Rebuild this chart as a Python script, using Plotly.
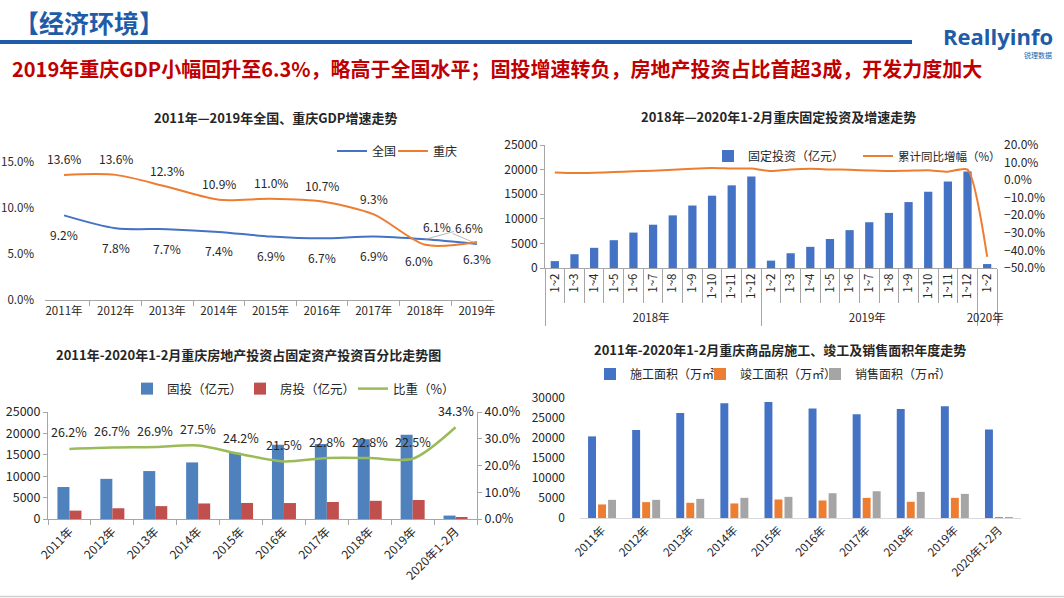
import plotly.graph_objects as go

W, H = 1064, 598
FONT = "Noto Sans CJK SC"
TXT = "#262626"
AXC = "#a6a6a6"


def fx(px):
    return px / W


def fy(py):
    return 1 - py / H


# ---------------- data ----------------
# Chart 1: GDP growth
gdp_years = ["2011年", "2012年", "2013年", "2014年", "2015年", "2016年", "2017年", "2018年", "2019年"]
gdp_national = [9.2, 7.8, 7.7, 7.4, 6.9, 6.7, 6.9, 6.6, 6.1]
gdp_chongqing = [13.6, 13.6, 12.3, 10.9, 11.0, 10.7, 9.3, 6.0, 6.3]

# Chart 2: fixed investment (monthly cumulative)
fai_group = ["2018年"] * 11 + ["2019年"] * 11 + ["2020年"]
fai_period = ["1~2", "1~3", "1~4", "1~5", "1~6", "1~7", "1~8", "1~9", "1~10", "1~11", "1~12",
              "1~2", "1~3", "1~4", "1~5", "1~6", "1~7", "1~8", "1~9", "1~10", "1~11", "1~12",
              "1~2"]
fai_value = [1400, 2800, 4100, 5650, 7200, 8800, 10700, 12700, 14700, 16800, 18600,
             1500, 3000, 4300, 5900, 7700, 9300, 11200, 13400, 15500, 17600, 19600,
             800]
fai_growth = [4.3, 4.0, 4.2, 4.6, 5.0, 5.4, 5.9, 6.5, 6.9, 6.6, 6.6,
              5.2, 6.1, 6.5, 6.1, 5.9, 5.5, 5.2, 5.4, 5.6, 4.8, 6.0,
              -43.6]

# Chart 3: real estate share of fixed investment
re_years = ["2011年", "2012年", "2013年", "2014年", "2015年", "2016年", "2017年", "2018年", "2019年", "2020年1-2月"]
re_fai = [7470, 9380, 11200, 13220, 15480, 17360, 17540, 18660, 19700, 800]
re_invest = [1960, 2510, 3010, 3630, 3750, 3730, 3980, 4250, 4440, 275]
re_share = [26.2, 26.7, 26.9, 27.5, 24.2, 21.5, 22.8, 22.8, 22.5, 34.3]

# Chart 4: construction / completion / sales area
area_years = ["2011年", "2012年", "2013年", "2014年", "2015年", "2016年", "2017年", "2018年", "2019年", "2020年1-2月"]
area_construct = [20400, 21980, 26280, 28680, 29000, 27350, 25950, 27270, 27930, 22140]
area_complete = [3390, 3970, 3800, 3640, 4630, 4380, 5040, 4050, 5040, 250]
area_sales = [4540, 4540, 4790, 5040, 5290, 6200, 6690, 6530, 6030, 250]

fig = go.Figure()

# ---------------- Chart 1 ----------------
fig.add_trace(go.Scatter(x=gdp_years, y=gdp_national, name="全国", mode="lines",
                         line=dict(color="#4472c4", width=2, shape="spline", smoothing=0.8),
                         xaxis="x", yaxis="y", legend="legend"))
fig.add_trace(go.Scatter(x=gdp_years, y=gdp_chongqing, name="重庆", mode="lines",
                         line=dict(color="#ed7d31", width=2, shape="spline", smoothing=0.8),
                         xaxis="x", yaxis="y", legend="legend2"))

annots = []
lab_font = dict(family=FONT, size=12, color=TXT)
n = len(gdp_years)
for i, (yr, v) in enumerate(zip(gdp_years, gdp_chongqing)):
    if i < n - 2:
        annots.append(dict(x=yr, y=v, xref="x", yref="y", text=f"{v:.1f}%", showarrow=False,
                           yshift=16, font=lab_font))
    else:
        annots.append(dict(x=yr, y=v, xref="x", yref="y", text=f"{v:.1f}%", showarrow=False,
                           yshift=-16, xshift=-6 if i == n - 2 else 0, font=lab_font))
for i, (yr, v) in enumerate(zip(gdp_years, gdp_national)):
    if i < n - 2:
        annots.append(dict(x=yr, y=v, xref="x", yref="y", text=f"{v:.1f}%", showarrow=False,
                           yshift=-19, font=lab_font))
    elif i == n - 2:
        annots.append(dict(x=yr, y=v, xref="x", yref="y", text=f"{v:.1f}%", showarrow=True,
                           arrowhead=0, arrowwidth=0.8, arrowcolor=AXC, ax=44, ay=-12,
                           standoff=0, font=lab_font))
    else:
        annots.append(dict(x=yr, y=v, xref="x", yref="y", text=f"{v:.1f}%", showarrow=True,
                           arrowhead=0, arrowwidth=0.8, arrowcolor=AXC, ax=-40, ay=-17,
                           standoff=0, font=lab_font))

# ---------------- Chart 2 ----------------
fig.add_trace(go.Bar(x=[fai_group, fai_period], y=fai_value, name="固定投资（亿元）",
                     marker=dict(color="#4472c4", line=dict(width=0)), width=0.42,
                     xaxis="x2", yaxis="y2", legend="legend3"))
fig.add_trace(go.Scatter(x=[fai_group, fai_period], y=fai_growth, name="累计同比增幅（%）",
                         mode="lines", line=dict(color="#ed7d31", width=2, shape="spline", smoothing=0.6),
                         xaxis="x2", yaxis="y3", legend="legend4"))

# ---------------- Chart 3 ----------------
fig.add_trace(go.Bar(x=re_years, y=re_fai, name="固投（亿元）",
                     marker=dict(color="#4f81bd", line=dict(width=0)), width=0.28, offset=-0.28,
                     xaxis="x3", yaxis="y4", legend="legend5"))
fig.add_trace(go.Bar(x=re_years, y=re_invest, name="房投（亿元）",
                     marker=dict(color="#c0504d", line=dict(width=0)), width=0.28, offset=0.0,
                     xaxis="x3", yaxis="y4", legend="legend6"))
fig.add_trace(go.Scatter(x=re_years, y=re_share, name="比重（%）", mode="lines",
                         line=dict(color="#9bbb59", width=2.5, shape="spline", smoothing=0.8),
                         xaxis="x3", yaxis="y5", legend="legend7"))
for yr, v in zip(re_years, re_share):
    annots.append(dict(x=yr, y=v, xref="x3", yref="y5", text=f"{v:.1f}%", showarrow=False,
                       yshift=17, font=dict(family=FONT, size=12.5, color=TXT)))

# ---------------- Chart 4 ----------------
fig.add_trace(go.Bar(x=area_years, y=area_construct, name="施工面积（万㎡）",
                     marker=dict(color="#4472c4", line=dict(width=0)), width=0.18, offset=-0.317,
                     xaxis="x4", yaxis="y6", legend="legend8"))
fig.add_trace(go.Bar(x=area_years, y=area_complete, name="竣工面积（万㎡）",
                     marker=dict(color="#ed7d31", line=dict(width=0)), width=0.18, offset=-0.09,
                     xaxis="x4", yaxis="y6", legend="legend9"))
fig.add_trace(go.Bar(x=area_years, y=area_sales, name="销售面积（万㎡）",
                     marker=dict(color="#a5a5a5", line=dict(width=0)), width=0.18, offset=0.137,
                     xaxis="x4", yaxis="y6", legend="legend10"))

# ---------------- titles / header ----------------
annots += [
    dict(x=fx(12), y=fy(22), xref="paper", yref="paper", xanchor="left", yanchor="middle",
         align="left", text="<b>【经济环境】</b>", showarrow=False,
         font=dict(family=FONT, size=25, color="#1f5ca8")),
    dict(x=fx(10), y=fy(68), xref="paper", yref="paper", xanchor="left", yanchor="middle",
         align="left",
         text="<b>2019年重庆GDP小幅回升至6.3%，略高于全国水平；固投增速转负，房地产投资占比首超3成，开发力度加大</b>",
         showarrow=False, font=dict(family=FONT, size=20, color="#c00000")),
    dict(x=fx(1055), y=fy(36), xref="paper", yref="paper", xanchor="right", yanchor="middle",
         text="<b>Reallyinfo</b>", showarrow=False,
         font=dict(family="Open Sans", size=22, color="#1f5ca8")),
    dict(x=fx(1054), y=fy(55), xref="paper", yref="paper", xanchor="right", yanchor="middle",
         text="锐理数据", showarrow=False,
         font=dict(family=FONT, size=7, color="#1f5ca8")),
    dict(x=fx(275), y=fy(118), xref="paper", yref="paper", xanchor="center", yanchor="middle",
         text="<b>2011年—2019年全国、重庆GDP增速走势</b>", showarrow=False,
         font=dict(family=FONT, size=13, color=TXT)),
    dict(x=fx(778), y=fy(117), xref="paper", yref="paper", xanchor="center", yanchor="middle",
         text="<b>2018年—2020年1-2月重庆固定投资及增速走势</b>", showarrow=False,
         font=dict(family=FONT, size=13, color=TXT)),
    dict(x=fx(248), y=fy(354), xref="paper", yref="paper", xanchor="center", yanchor="middle",
         text="<b>2011年-2020年1-2月重庆房地产投资占固定资产投资百分比走势图</b>", showarrow=False,
         font=dict(family=FONT, size=13, color=TXT)),
    dict(x=fx(780), y=fy(349), xref="paper", yref="paper", xanchor="center", yanchor="middle",
         text="<b>2011年-2020年1-2月重庆商品房施工、竣工及销售面积年度走势</b>", showarrow=False,
         font=dict(family=FONT, size=13, color=TXT)),
]

shapes = [
    dict(type="rect", xref="paper", yref="paper", x0=0, x1=fx(912), y0=fy(44), y1=fy(40),
         fillcolor="#1f5ca8", line=dict(width=0), layer="below"),
    dict(type="line", xref="paper", yref="paper", x0=0, x1=1, y0=fy(596.5), y1=fy(596.5),
         line=dict(color="#d0d0d0", width=1.5)),
]

tickf = dict(family=FONT, size=11.5, color=TXT)


def leg(text_x, text_y, size=12):
    # legend box placed so that its item text starts near text_x
    return dict(orientation="h", x=fx(text_x - 40), y=fy(text_y), xanchor="left", yanchor="middle",
                bgcolor="rgba(0,0,0,0)", font=dict(family=FONT, size=size, color=TXT),
                itemwidth=30, visible=True)


fig.update_layout(
    width=W, height=H,
    showlegend=True,
    margin=dict(l=0, r=0, t=0, b=0, pad=0, autoexpand=False),
    paper_bgcolor="white", plot_bgcolor="rgba(0,0,0,0)",
    font=dict(family=FONT, size=12, color=TXT),
    annotations=annots, shapes=shapes,
    barmode="group",
    # chart 1
    xaxis=dict(domain=[fx(45), fx(493)], anchor="y", showline=True, linecolor=AXC, linewidth=1,
               ticks="outside", tickson="boundaries", ticklen=5, tickcolor=AXC, automargin=False,
               showgrid=False, tickfont=tickf),
    yaxis=dict(domain=[fy(300), fy(162)], anchor="x", range=[0, 15], dtick=5,
               tickformat=".1f", ticksuffix="%", showgrid=False, showline=False, automargin=False,
               zeroline=False, tickfont=tickf, ticklabelstandoff=10),
    # chart 2
    xaxis2=dict(domain=[fx(545), fx(997)], anchor="y2", type="multicategory", automargin=False,
                showline=True, linecolor=AXC, ticks="outside", ticklen=34, tickcolor=AXC,
                tickangle=-90, showdividers=True, dividercolor=AXC, dividerwidth=1,
                showgrid=False, tickfont=dict(family=FONT, size=11.5, color=TXT)),
    yaxis2=dict(domain=[fy(268), fy(145)], anchor="x2", range=[0, 25000], dtick=5000,
                tickformat="d", automargin=False,
                showgrid=False, showline=True, linecolor=AXC, ticks="outside", ticklen=4,
                tickcolor=AXC, zeroline=False, tickfont=dict(family=FONT, size=12, color=TXT)),
    yaxis3=dict(overlaying="y2", anchor="x2", side="right", range=[-50, 20], dtick=10,
                tickformat=".1f", ticksuffix="%", showgrid=False, showline=False, automargin=False,
                zeroline=False, tickfont=dict(family=FONT, size=12, color=TXT), ticklabelstandoff=6),
    # chart 3
    xaxis3=dict(domain=[fx(48), fx(477)], anchor="y4", showline=True, linecolor=AXC,
                ticks="outside", tickson="boundaries", ticklen=5, tickcolor=AXC, automargin=False,
                tickangle=-45, showgrid=False, tickfont=dict(family=FONT, size=12, color=TXT)),
    yaxis4=dict(domain=[fy(519), fy(412)], anchor="x3", range=[0, 25000], dtick=5000,
                tickformat="d", automargin=False,
                showgrid=False, showline=True, linecolor=AXC, ticks="outside", ticklen=4,
                tickcolor=AXC, zeroline=False, tickfont=dict(family=FONT, size=12.5, color=TXT)),
    yaxis5=dict(overlaying="y4", anchor="x3", side="right", range=[0, 40], dtick=10,
                tickformat=".1f", ticksuffix="%", showgrid=False, showline=True, linecolor=AXC,
                ticks="outside", ticklen=4, tickcolor=AXC, zeroline=False, automargin=False,
                tickfont=dict(family=FONT, size=12.5, color=TXT)),
    # chart 4
    xaxis4=dict(domain=[fx(580), fx(1021)], anchor="y6", showline=True, linecolor="#d9d9d9",
                ticks="", tickangle=-45, showgrid=False, automargin=False,
                tickfont=dict(family=FONT, size=11.5, color=TXT)),
    yaxis6=dict(domain=[fy(518), fy(398)], anchor="x4", range=[0, 30000], dtick=5000,
                tickformat="d", automargin=False,
                showgrid=False, showline=False, zeroline=False, ticklabelstandoff=14,
                tickfont=dict(family=FONT, size=12, color=TXT)),
    legend=leg(372, 151),
    legend2=leg(433, 151),
    legend3=leg(748, 156),
    legend4=leg(898, 156, 11.5),
    legend5=leg(167, 389, 12.5),
    legend6=leg(280, 389, 12.5),
    legend7=leg(393, 389, 12.5),
    legend8=leg(630, 374),
    legend9=leg(740, 374),
    legend10=leg(855, 374),
)

fig.write_html("out.html", config={"displayModeBar": False},
               post_script="document.body.style.margin='0';document.body.style.padding='0';"
                           "document.body.style.overflow='hidden';")
